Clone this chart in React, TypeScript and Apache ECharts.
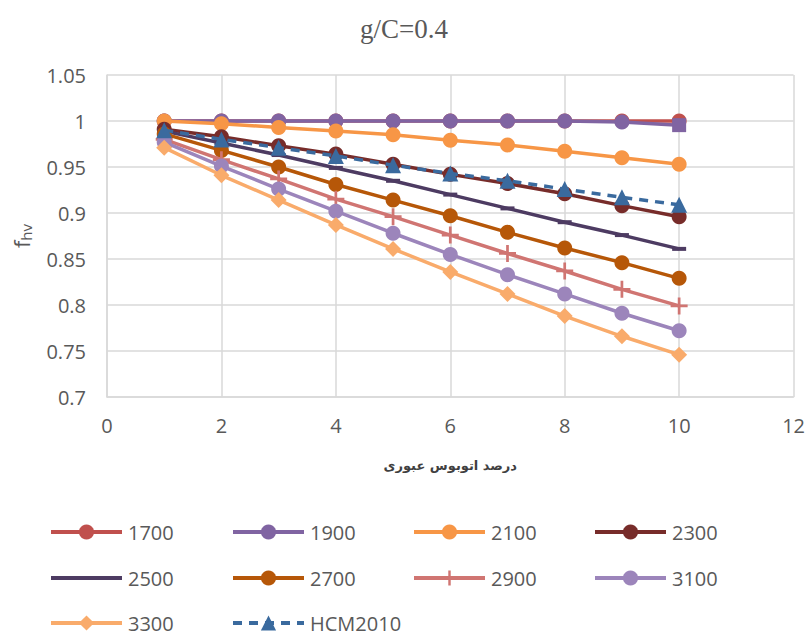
import React, { useEffect, useRef } from "react";
import * as echarts from "echarts";

const xValues = [1, 2, 3, 4, 5, 6, 7, 8, 9, 10];
const seriesNames = ["1700", "1900", "2100", "2300", "2500", "2700", "2900", "3100", "3300", "HCM2010"];
const v1700 = [1.0, 1.0, 1.0, 1.0, 1.0, 1.0, 1.0, 1.0, 1.0, 1.0];
const v1900 = [1.0, 1.0, 1.0, 1.0, 1.0, 1.0, 1.0, 1.0, 0.999, 0.9955];
const v2100 = [1.0, 0.997, 0.993, 0.989, 0.985, 0.979, 0.974, 0.967, 0.96, 0.953];
const v2300 = [0.991, 0.983, 0.973, 0.964, 0.953, 0.942, 0.932, 0.921, 0.908, 0.896];
const v2500 = [0.989, 0.976, 0.963, 0.949, 0.935, 0.92, 0.905, 0.89, 0.876, 0.861];
const v2700 = [0.986, 0.968, 0.95, 0.931, 0.914, 0.897, 0.879, 0.862, 0.846, 0.829];
const v2900 = [0.98, 0.958, 0.937, 0.915, 0.896, 0.876, 0.856, 0.837, 0.817, 0.799];
const v3100 = [0.977, 0.951, 0.926, 0.902, 0.878, 0.855, 0.833, 0.812, 0.791, 0.772];
const v3300 = [0.971, 0.941, 0.914, 0.887, 0.861, 0.836, 0.812, 0.788, 0.766, 0.746];
const vHCM = [0.99, 0.98, 0.971, 0.962, 0.952, 0.943, 0.935, 0.926, 0.917, 0.909];
const xTicks = [0, 2, 4, 6, 8, 10, 12];
const yTicks = [0.7, 0.75, 0.8, 0.85, 0.9, 0.95, 1, 1.05];

const colors = ["#c0504d", "#8064a2", "#f79646", "#772c2a", "#4d3b62", "#b65708", "#d07572", "#9c85bb", "#f9ab6b", "#3a6a9e"];
const plusPath = "path://M4.2,0 L5.8,0 L5.8,4.2 L10,4.2 L10,5.8 L5.8,5.8 L5.8,10 L4.2,10 L4.2,5.8 L0,5.8 L0,4.2 L4.2,4.2 Z";
const dashPath = "path://M0,0 L14,0 L14,4 L0,4 Z";

const FONT = "'Open Sans', 'Liberation Sans', sans-serif";

export default function App() {
  const ref = useRef<HTMLDivElement>(null);
  useEffect(() => {
    if (!ref.current) return;
    const chart = echarts.init(ref.current, null, { renderer: "svg" });
    const values = [v1700, v1900, v2100, v2300, v2500, v2700, v2900, v3100, v3300, vHCM];
    const symbols: any[] = ["circle", "circle", "circle", "circle", dashPath, "circle", plusPath, "circle", "diamond", "triangle"];
    const sizes: any[] = [15, 15, 15, 15, 14, 15, 17, 15, 16, 16];
    const series = seriesNames.map((name, i) => ({
      name,
      type: "line",
      data: xValues.map((x, j) => {
        const item: any = { value: [x, values[i][j]] };
        if (name === "1900" && j === xValues.length - 1) {
          item.symbol = "rect";
          item.symbolSize = 14;
        }
        return item;
      }),
      symbol: symbols[i],
      symbolSize: sizes[i],
      symbolKeepAspect: true,
      showSymbol: true,
      lineStyle: { color: colors[i], width: 3.5, type: name === "HCM2010" ? [9, 7] : "solid" },
      itemStyle: { color: colors[i] },
      z: 2 + i,
    }));
    const colLeft = [49, 231, 412, 593];
    const rowCenter = [534, 580, 625];
    const legends = seriesNames.map((name, i) => {
      const lg: any = {
        left: colLeft[i % 4],
        top: rowCenter[Math.floor(i / 4)] - 12,
        itemWidth: 71,
        itemHeight: 19,
        itemGap: 0,
        padding: 0,
        lineStyle: { width: 4 },
        textStyle: { fontSize: 20, color: "#595959", fontFamily: FONT, padding: [0, 0, 0, 1] },
        data: [name],
      };
      if (name === "2500") lg.itemStyle = { opacity: 0 };
      return lg;
    });
    chart.setOption({
      animation: false,
      title: {
        text: "g/C=0.4",
        left: "center",
        top: 10,
        textStyle: { fontFamily: "'Liberation Serif', serif", fontSize: 27, fontWeight: "normal", color: "#595959" },
      },
      grid: { left: 107, right: 14, top: 75, bottom: 240 },
      xAxis: {
        type: "value",
        min: 0,
        max: 12,
        interval: 2,
        name: "درصد اتوبوس عبوری",
        nameLocation: "middle",
        nameGap: 62,
        nameTextStyle: { fontFamily: "'DejaVu Sans', sans-serif", fontSize: 13, fontWeight: "bold", color: "#404040" },
        axisLine: { lineStyle: { color: "#d9d9d9", width: 1.5 } },
        axisTick: { show: false },
        splitLine: { lineStyle: { color: "#d9d9d9", width: 1.5 } },
        axisLabel: { fontSize: 20, color: "#595959", margin: 18, fontFamily: FONT },
      },
      yAxis: {
        type: "value",
        min: 0.7,
        max: 1.05,
        interval: 0.05,
        name: "{f|f}{s|hv}",
        nameLocation: "middle",
        nameGap: 74,
        nameTextStyle: {
          rich: {
            f: { fontSize: 22, color: "#595959", fontFamily: FONT },
            s: { fontSize: 15, color: "#595959", fontFamily: FONT, padding: [10, 0, 0, 0] },
          },
        },
        axisLine: { show: true, lineStyle: { color: "#d9d9d9", width: 1.5 } },
        axisTick: { show: false },
        splitLine: { lineStyle: { color: "#d9d9d9", width: 1.5 } },
        axisLabel: {
          fontSize: 20,
          color: "#595959",
          margin: 21,
          fontFamily: FONT,
          formatter: (v: number) => String(Math.round(v * 100) / 100),
        },
      },
      legend: legends,
      series,
    });
    return () => chart.dispose();
  }, []);
  return <div ref={ref} style={{ position: "absolute", left: 0, top: 0, width: 808, height: 637 }} />;
}
